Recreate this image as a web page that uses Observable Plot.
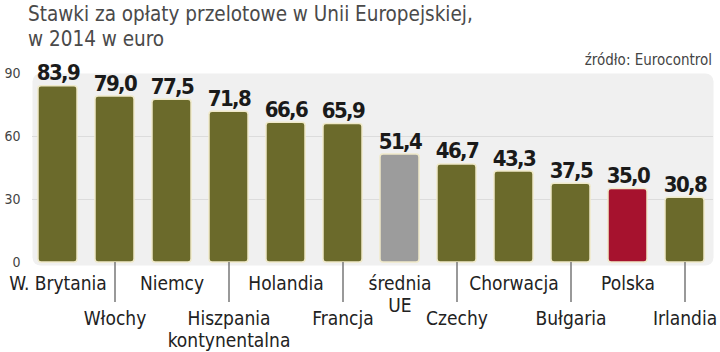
<!DOCTYPE html>
<html>
<head>
<meta charset="utf-8">
<script src="https://cdn.jsdelivr.net/npm/d3@7"></script>
<script src="https://cdn.jsdelivr.net/npm/@observablehq/plot@0.6"></script>
<style>
  html, body { margin: 0; padding: 0; background: #fff; }
  #wrap { position: relative; width: 720px; height: 352px; overflow: hidden; }
  .title { position: absolute; left: 28px; font-family: "DejaVu Sans Condensed", "DejaVu Sans", sans-serif; font-stretch: condensed; font-size: 20.5px; color: #4a4a4a; line-height: 25px; top: 2px; }
  .source { position: absolute; right: 8px; top: 51px; font-family: "DejaVu Sans Condensed", "DejaVu Sans", sans-serif; font-stretch: condensed; font-size: 15px; color: #444; }
  #chart { position: absolute; left: 0; top: 0; }
  #chart svg text { font-stretch: condensed; }
  #chart svg .vals text { letter-spacing: -1.6px; }
</style>
</head>
<body>
<div id="wrap">
  <div id="chart"></div>
  <div class="title">Stawki za opłaty przelotowe w Unii Europejskiej,<br>w 2014 w euro</div>
  <div class="source">źródło: Eurocontrol</div>
</div>
<script>
const categories = ["W. Brytania", "Włochy", "Niemcy", "Hiszpania\nkontynentalna", "Holandia", "Francja", "średnia\nUE", "Czechy", "Chorwacja", "Bułgaria", "Polska", "Irlandia"];
const values = [83.9, 79.0, 77.5, 71.8, 66.6, 65.9, 51.4, 46.7, 43.3, 37.5, 35.0, 30.8];
const kinds = ["kraj", "kraj", "kraj", "kraj", "kraj", "kraj", "średnia", "kraj", "kraj", "kraj", "polska", "kraj"];
const yTicks = [0, 30, 60, 90];
const gridTicks = [30, 60];

const data = categories.map((c, i) => ({category: c, value: values[i], kind: kinds[i]}));
const upperRow = categories.filter((c, i) => i % 2 === 0);
const lowerRow = categories.filter((c, i) => i % 2 === 1);
const fmt = d3.format(".1f");
const plFmt = v => fmt(v).replace(".", ",");
const font = "DejaVu Sans Condensed, DejaVu Sans, sans-serif";

const chart = Plot.plot({
  width: 720,
  height: 352,
  marginTop: 73,
  marginBottom: 90,
  marginLeft: 36,
  marginRight: 13,
  style: {fontFamily: font, background: "transparent", overflow: "visible"},
  x: {domain: categories, paddingInner: 0.31, paddingOuter: 0, axis: null, label: null},
  y: {domain: [0, 90], axis: null, label: null},
  color: {domain: ["kraj", "średnia", "polska"], range: ["#6b6a2b", "#9c9c9c", "#a6122e"]},
  marks: [
    Plot.frame({fill: "#f0f0f0", stroke: null, rx: 8, insetLeft: -4, insetRight: -6, insetBottom: -3}),
    Plot.ruleY(gridTicks, {stroke: "#dcdcdc", strokeWidth: 1.2, insetLeft: -4, insetRight: -6}),
    Plot.axisY({ticks: yTicks, tickSize: 0, tickPadding: 16, fontSize: 14, color: "#444", fontFamily: font, label: null}),
    Plot.barY(data, {x: "category", y: "value", fill: "kind", stroke: "#efe9c9", strokeWidth: 1.5, rx: 3}),
    Plot.text(data, {x: "category", y: "value", text: d => plFmt(d.value), lineAnchor: "bottom", dy: -6, fontSize: 22, fontWeight: "bold", fill: "#1a1a1a", fontFamily: font, className: "vals"}),
    Plot.axisX({ticks: upperRow, tickSize: 0, tickPadding: 12, fontSize: 19, color: "#222", fontFamily: font, lineHeight: 1.15, label: null}),
    Plot.axisX({ticks: lowerRow, tickSize: 40, tickPadding: 7, fontSize: 19, color: "#222", stroke: "#777", strokeWidth: 1.5, fontFamily: font, lineHeight: 1.15, label: null})
  ]
});
document.getElementById("chart").appendChild(chart);
</script>
</body>
</html>
